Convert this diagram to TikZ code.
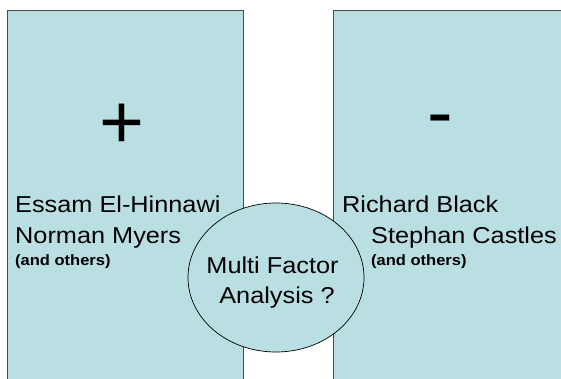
\documentclass[tikz,border=0pt]{standalone}
\usepackage{fontspec}
\setmainfont{Liberation Sans}[FakeStretch=1.1]
\newfontfamily\signfont{Liberation Sans}
\usetikzlibrary{shapes.geometric}
\definecolor{panelfill}{HTML}{BADFE2}
\definecolor{panelline}{HTML}{4A4A4A}
\begin{document}
\begin{tikzpicture}[x=1pt,y=-1pt,
  panelbox/.style={draw=panelline,line width=1.1pt,fill=panelfill,inner sep=0pt,anchor=north west},
  bubblebox/.style={ellipse,draw=black,line width=0.7pt,fill=panelfill,inner sep=0pt,minimum width=176pt,minimum height=149pt},
  personlbl/.style={font=\fontsize{23}{27}\selectfont,inner sep=0pt,anchor=base west},
  otherslbl/.style={font=\bfseries\fontsize{15}{18}\selectfont,inner sep=0pt,anchor=base west},
  signlbl/.style={font=\signfont\fontsize{77}{80}\selectfont,inner sep=0pt,anchor=base},
  insidelbl/.style={font=\fontsize{23}{27}\selectfont,inner sep=0pt,anchor=base}]
\useasboundingbox (0,0) rectangle (561,378);
\clip (0,0) rectangle (561,378);
\node[panelbox,minimum width=236pt,minimum height=400pt] (left) at (6.5,10) {};
\node[panelbox,minimum width=250pt,minimum height=400pt] (right) at (333,10) {};
\node[bubblebox] (mfa) at (276,277.5) {};
\node[signlbl] (plus) at (122,148.5) {+};
\node[signlbl] (minus) at (440,138) {-};
\node[personlbl] (essam) at (15,212) {Essam El-Hinnawi};
\node[personlbl] (myers) at (15,243) {Norman Myers};
\node[otherslbl] (othersL) at (15,265) {(and others)};
\node[personlbl] (black) at (342,212) {Richard Black};
\node[personlbl] (castles) at (371,243) {Stephan Castles};
\node[otherslbl] (othersR) at (371,265) {(and others)};
\node[insidelbl] (multi) at (272.5,273) {Multi Factor};
\node[insidelbl] (analysis) at (277,303) {Analysis ?};
\end{tikzpicture}
\end{document}
